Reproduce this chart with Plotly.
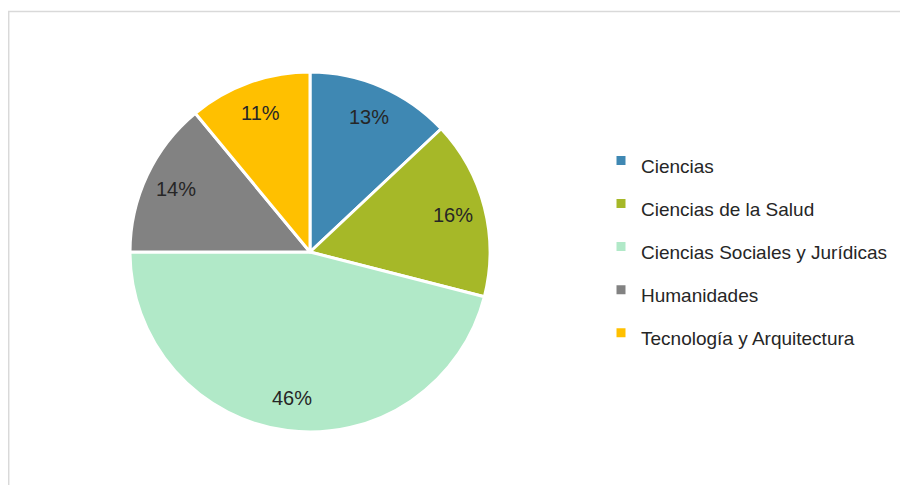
import math
import plotly.graph_objects as go

categories = ["Ciencias", "Ciencias de la Salud", "Ciencias Sociales y Jurídicas",
              "Humanidades", "Tecnología y Arquitectura"]
values = [13, 16, 46, 14, 11]
colors = ["#3F88B3", "#A6B828", "#B1E9C8", "#828282", "#FFC000"]

# page has an 8px body margin, so the figure is 8px smaller than the window
W, H = 900, 477
FONT = "Liberation Sans Narrow, Arial Narrow, Liberation Sans, Arial, sans-serif"

CX, CY, R = 302, 244, 180  # pie centre / radius in figure pixels (from top-left)
dom_x = [(CX - R) / W, (CX + R) / W]
dom_y = [(H - CY - R) / H, (H - CY + R) / H]

legend_labels = [f'<span style="font-size:19px">{c}</span>' for c in categories]

fig = go.Figure(go.Pie(
    labels=legend_labels,
    values=values,
    sort=False,
    direction="clockwise",
    rotation=0,
    marker=dict(colors=colors, line=dict(color="white", width=3)),
    textinfo="none",
    domain=dict(x=dom_x, y=dom_y),
    hovertext=categories,
    hoverinfo="text+percent",
))

# percentage labels placed at 0.82 of the radius, on each slice's mid-angle
total = sum(values)
annotations = []
cum = 0
for v in values:
    mid = (cum + v / 2) / total
    cum += v
    ang = 2 * math.pi * mid
    px = CX + 0.82 * R * math.sin(ang)
    py = CY - 0.82 * R * math.cos(ang)
    annotations.append(dict(
        x=px / W, y=(H - py) / H, xref="paper", yref="paper",
        text=f"{round(100 * v / total)}%", showarrow=False,
        font=dict(family=FONT, size=20, color="#262626"),
        xanchor="center", yanchor="middle",
    ))

fig.update_layout(
    width=W, height=H,
    margin=dict(l=0, r=0, t=0, b=0),
    paper_bgcolor="white",
    font=dict(family=FONT, color="#262626"),
    legend=dict(
        x=593 / W, y=(H - 126) / H, xanchor="left", yanchor="top",
        font=dict(family=FONT, size=30.8, color="#262626"),
        traceorder="normal",
        bgcolor="rgba(0,0,0,0)",
    ),
    annotations=annotations,
    shapes=[
        dict(type="line", xref="paper", yref="paper", x0=0, x1=1.05, y0=(H - 3.5) / H, y1=(H - 3.5) / H,
             line=dict(color="#D9D9D9", width=1.5)),
        dict(type="line", xref="paper", yref="paper", x0=0.7 / W, x1=0.7 / W, y0=-0.05, y1=(H - 3.5) / H,
             line=dict(color="#D9D9D9", width=1.5)),
    ],
)

fig.write_html("out.html")
